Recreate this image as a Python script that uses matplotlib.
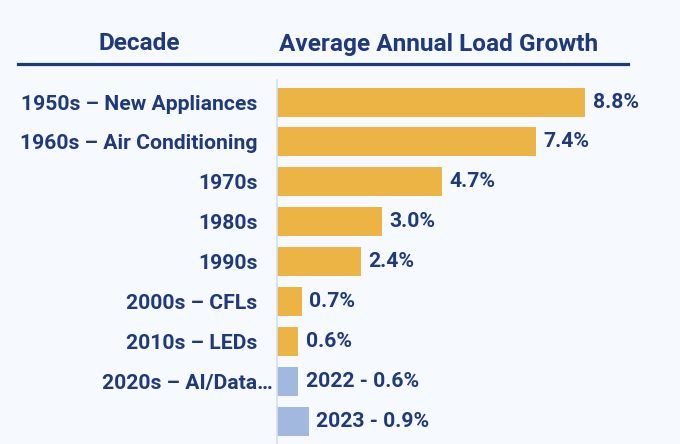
import matplotlib
matplotlib.use("Agg")
import matplotlib.pyplot as plt
from matplotlib.lines import Line2D
from matplotlib.transforms import ScaledTranslation

categories = ["1950s – New Appliances", "1960s – Air Conditioning", "1970s", "1980s",
              "1990s", "2000s – CFLs", "2010s – LEDs", "2020s – AI/Data…", ""]
values = [8.8, 7.4, 4.7, 3.0, 2.4, 0.7, 0.6, 0.6, 0.9]
value_labels = ["8.8%", "7.4%", "4.7%", "3.0%", "2.4%", "0.7%", "0.6%",
                "2022 - 0.6%", "2023 - 0.9%"]
kinds = ["hist"] * 7 + ["recent"] * 2
header_left = "Decade"
header_right = "Average Annual Load Growth"

BG = "#f6f9fd"
NAVY = "#1f3a7b"
GOLD = "#ecb445"
LBLUE = "#a3b8de"
AXIS = "#d6dff0"

plt.rcParams['font.family'] = ['Roboto', 'DejaVu Sans']
W, H = 680, 444
fig = plt.figure(figsize=(W / 100, H / 100), dpi=100, facecolor=BG)

ax_left, ax_top = 277, 80
ax = fig.add_axes([ax_left / W, 0, (W - ax_left) / W, (H - ax_top) / H], facecolor=BG)

row0, step = 102, 39.94
y = list(range(len(values)))
colors = [GOLD if k == "hist" else LBLUE for k in kinds]
ax.barh(y, values, height=29 / step, color=colors)

ax.set_xlim(0, (W - ax_left) / 35.0)
ax.set_ylim((H - row0) / step, -(row0 - ax_top) / step)

FS = 15.2
for yi, v, lab in zip(y, values, value_labels):
    ax.annotate(lab, (v, yi), xytext=(5.5, 0), textcoords="offset points",
                va="center", ha="left", fontsize=FS, fontweight="bold", color=NAVY)

ax.set_yticks(y)
ax.set_yticklabels(categories, fontsize=FS, fontweight="bold", color=NAVY)
ax.tick_params(axis="y", length=0, pad=14)
# the truncated 2020s label overflows its padding, sitting closer to the axis
trunc = ax.get_yticklabels()[7]
trunc.set_transform(trunc.get_transform() + ScaledTranslation(0.15, 0, fig.dpi_scale_trans))
ax.set_xticks([])
for s in ["top", "right", "bottom"]:
    ax.spines[s].set_visible(False)
ax.spines["left"].set_color(AXIS)
ax.spines["left"].set_linewidth(1.2)

fig.text(139.5 / W, 1 - 44 / H, header_left, ha="center", va="center",
         fontsize=17.6, fontweight="bold", color=NAVY)
fig.text(438.5 / W, 1 - 44 / H, header_right, ha="center", va="center",
         fontsize=17.6, fontweight="bold", color=NAVY)
fig.add_artist(Line2D([18 / W, 628 / W], [1 - 64.5 / H, 1 - 64.5 / H],
                      transform=fig.transFigure, color=NAVY, linewidth=2.3))

fig.savefig("out.png", dpi=100, facecolor=BG)
